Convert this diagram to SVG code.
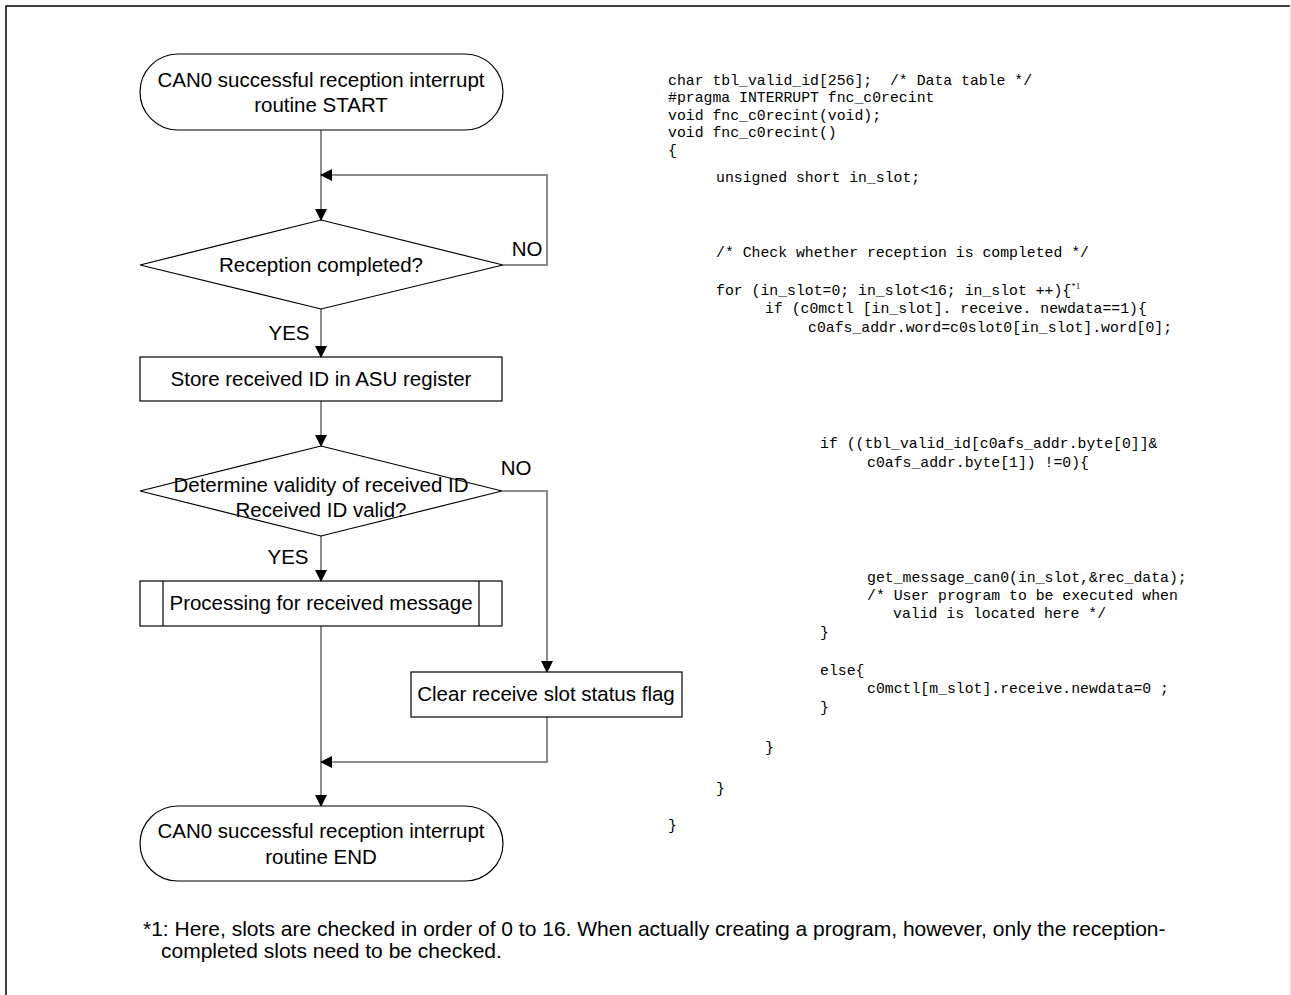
<svg xmlns="http://www.w3.org/2000/svg" width="1291" height="995" viewBox="0 0 1291 995">
<style>
.shape{fill:#fff;stroke:#000;stroke-width:1.2}
.conn{fill:none;stroke:#666;stroke-width:1.5}
.t{font-family:"Liberation Sans",Arial,sans-serif;font-size:20.5px;fill:#000;text-anchor:middle}
.lbl{font-family:"Liberation Sans",Arial,sans-serif;font-size:20.5px;fill:#000;text-anchor:middle}
.code{font-family:"Liberation Mono","Courier New",monospace;font-size:14.8px;fill:#000;white-space:pre}
.note{font-family:"Liberation Sans",Arial,sans-serif;font-size:21px;fill:#000}
</style>
<defs>
<marker id="arr" markerWidth="12" markerHeight="12" refX="11" refY="6" orient="auto" markerUnits="userSpaceOnUse">
<path d="M0,0 L12,6 L0,12 Z" fill="#000"/>
</marker>
</defs>
<rect width="1291" height="995" fill="#fff"/>
<path d="M6,995 V6 H1290" fill="none" stroke="#000" stroke-width="1.5"/>
<line x1="1290" y1="6" x2="1290" y2="995" stroke="#ddd" stroke-width="1"/>

<g id="connectors">
<line class="conn" x1="321" y1="130" x2="321" y2="220" marker-end="url(#arr)"/>
<path class="conn" d="M503,265 H547 V175 H321" marker-end="url(#arr)"/>
<line class="conn" x1="321" y1="309" x2="321" y2="357" marker-end="url(#arr)"/>
<line class="conn" x1="321" y1="401" x2="321" y2="446" marker-end="url(#arr)"/>
<line class="conn" x1="321" y1="536" x2="321" y2="581" marker-end="url(#arr)"/>
<path class="conn" d="M502,491 H547 V672" marker-end="url(#arr)"/>
<line class="conn" x1="321" y1="626" x2="321" y2="806" marker-end="url(#arr)"/>
<path class="conn" d="M547,717 V762 H321" marker-end="url(#arr)"/>
<text class="lbl" x="527" y="256">NO</text>
<text class="lbl" x="289" y="340">YES</text>
<text class="lbl" x="516" y="475">NO</text>
<text class="lbl" x="288" y="564">YES</text>
</g>

<g id="start">
<rect class="shape" x="140" y="54" width="363" height="76" rx="38" ry="38"/>
<text class="t" x="321" y="87">CAN0 successful reception interrupt</text>
<text class="t" x="321" y="112">routine START</text>
</g>

<g id="decision1">
<polygon class="shape" points="321,220 503,265 321,309 140,265"/>
<text class="t" x="321" y="272">Reception completed?</text>
</g>

<g id="store">
<rect class="shape" x="140" y="357" width="362" height="44"/>
<text class="t" x="321" y="386">Store received ID in ASU register</text>
</g>

<g id="decision2">
<polygon class="shape" points="321,446 502,491 321,536 140,491"/>
<text class="t" x="321" y="492">Determine validity of received ID</text>
<text class="t" x="321" y="517">Received ID valid?</text>
</g>

<g id="processing">
<rect class="shape" x="140" y="581" width="362" height="45"/>
<line class="shape" x1="163" y1="581" x2="163" y2="626"/>
<line class="shape" x1="479" y1="581" x2="479" y2="626"/>
<text class="t" x="321" y="610">Processing for received message</text>
</g>

<g id="clear">
<rect class="shape" x="411" y="672" width="271" height="45"/>
<text class="t" x="546" y="701">Clear receive slot status flag</text>
</g>

<g id="end">
<rect class="shape" x="140" y="806" width="363" height="75" rx="38" ry="38"/>
<text class="t" x="321" y="838">CAN0 successful reception interrupt</text>
<text class="t" x="321" y="864">routine END</text>
</g>

<g id="code">
<text class="code" x="668" y="85">char tbl_valid_id[256];  /* Data table */</text>
<text class="code" x="668" y="102">#pragma INTERRUPT fnc_c0recint</text>
<text class="code" x="668" y="120">void fnc_c0recint(void);</text>
<text class="code" x="668" y="137">void fnc_c0recint()</text>
<text class="code" x="668" y="155">{</text>
<text class="code" x="716" y="182">unsigned short in_slot;</text>
<text class="code" x="716" y="257">/* Check whether reception is completed */</text>
<text class="code" x="716" y="295">for (in_slot=0; in_slot&lt;16; in_slot ++){<tspan font-family="Liberation Serif,serif" font-size="9" dy="-6">*1</tspan></text>
<text class="code" x="765" y="313">if (c0mctl [in_slot]. receive. newdata==1){</text>
<text class="code" x="808" y="332">c0afs_addr.word=c0slot0[in_slot].word[0];</text>
<text class="code" x="820" y="448">if ((tbl_valid_id[c0afs_addr.byte[0]]&amp;</text>
<text class="code" x="867" y="467">c0afs_addr.byte[1]) !=0){</text>
<text class="code" x="867" y="582">get_message_can0(in_slot,&amp;rec_data);</text>
<text class="code" x="867" y="600">/* User program to be executed when</text>
<text class="code" x="893" y="618">valid is located here */</text>
<text class="code" x="820" y="637">}</text>
<text class="code" x="820" y="675">else{</text>
<text class="code" x="867" y="693">c0mctl[m_slot].receive.newdata=0 ;</text>
<text class="code" x="820" y="712">}</text>
<text class="code" x="765" y="752">}</text>
<text class="code" x="716" y="793">}</text>
<text class="code" x="668" y="830">}</text>
</g>

<g id="footnote">
<text class="note" x="143" y="936">*1: Here, slots are checked in order of 0 to 16. When actually creating a program, however, only the reception-</text>
<text class="note" x="161" y="958">completed slots need to be checked.</text>
</g>
</svg>
